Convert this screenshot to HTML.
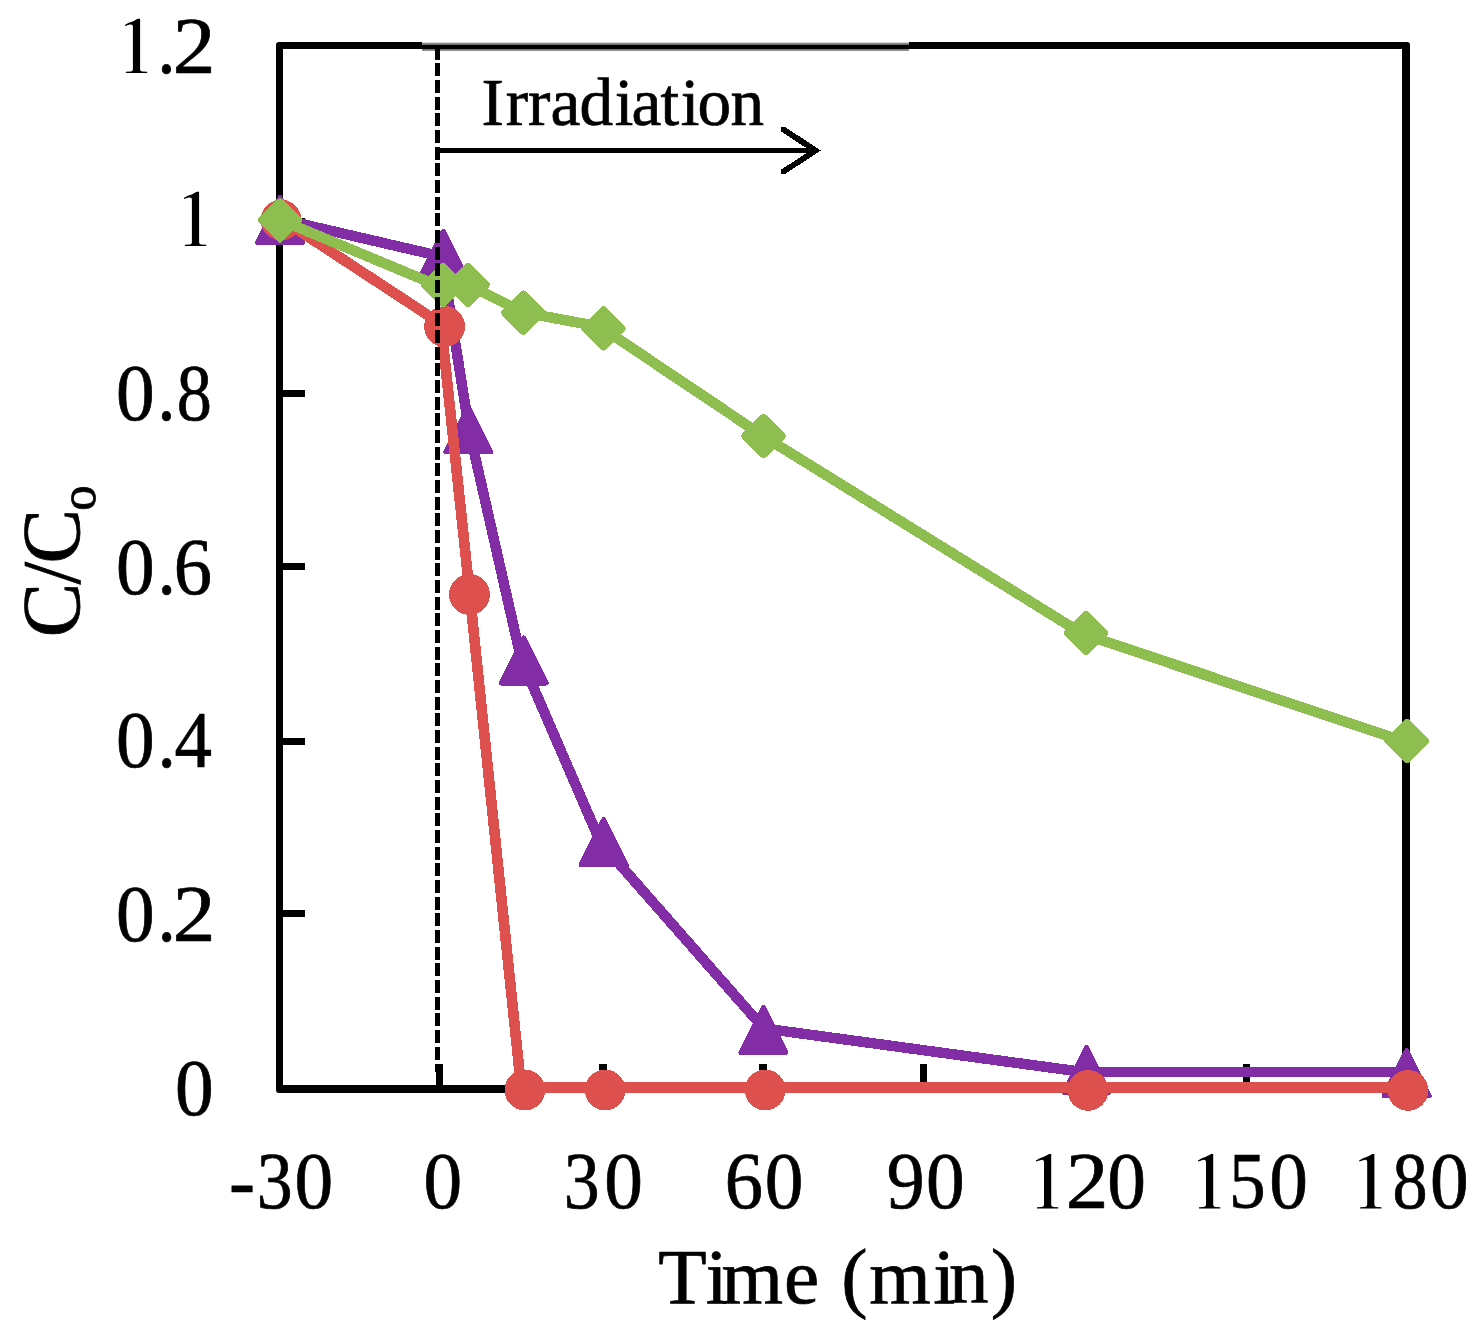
<!DOCTYPE html>
<html lang="en"><head><meta charset="utf-8"><title>C/Co versus time under irradiation</title>
<style>
html,body{margin:0;padding:0;background:#fff;}
body{width:1482px;height:1332px;overflow:hidden;}
svg{display:block;}
text{font-family:"Liberation Serif",serif;fill:#000;stroke:#000;stroke-width:0.7px;stroke-linejoin:round;}
</style></head><body>
<svg width="1482" height="1332" viewBox="0 0 1482 1332">
<rect x="0" y="0" width="1482" height="1332" fill="#fff"/>
<g id="axes" fill="#000">
<path fill-rule="evenodd" d="M279,42 H1407 Q1410,42 1410,45 V1090 Q1410,1093 1407,1093 H279 Q276,1093 276,1090 V45 Q276,42 279,42 Z M283,49 V1085 H1402 V49 Z"/>
<rect x="283" y="218" width="22" height="7"/>
<rect x="283" y="390" width="22" height="7"/>
<rect x="283" y="563" width="22" height="7"/>
<rect x="283" y="738" width="22" height="7"/>
<rect x="283" y="910" width="22" height="7"/>
<rect x="436" y="1064" width="7" height="21"/>
<rect x="599" y="1064" width="8" height="21"/>
<rect x="759" y="1064" width="8" height="21"/>
<rect x="920" y="1064" width="7" height="21"/>
<rect x="1081" y="1064" width="8" height="21"/>
<rect x="1243" y="1064" width="7" height="21"/>
</g>
<g id="topsoft" shape-rendering="crispEdges">
<rect x="422" y="41" width="487" height="11" fill="#fff"/>
<rect x="422" y="42" width="487" height="1" fill="#d8d8d8"/>
<rect x="422" y="43" width="487" height="1" fill="#8c8c8c"/>
<rect x="422" y="44" width="487" height="1" fill="#6e6e6e"/>
<rect x="422" y="45" width="487" height="1" fill="#000"/>
<rect x="422" y="46" width="487" height="1" fill="#000"/>
<rect x="422" y="47" width="487" height="1" fill="#000"/>
<rect x="422" y="48" width="487" height="1" fill="#000"/>
<rect x="422" y="49" width="487" height="1" fill="#7c7c7c"/>
<rect x="422" y="50" width="487" height="1" fill="#909090"/>
</g>
<g id="series" shape-rendering="crispEdges">
<polyline points="280,218.9 441.5,256.5 469.4,431.4 520.9,658.3 600.6,842.6 763.8,1028.4 1083.7,1072.1 1406.7,1071.9" fill="none" stroke="#822DA5" stroke-width="10.4" stroke-linejoin="round"/>
<polygon points="280,197.4 302.5,242.4 257.5,242.4" fill="#822DA5" stroke="#822DA5" stroke-width="5" stroke-linejoin="round"/>
<polygon points="443.4,231.1 465.9,276.1 420.9,276.1" fill="#822DA5" stroke="#822DA5" stroke-width="5" stroke-linejoin="round"/>
<polygon points="468.2,406.9 490.7,451.9 445.7,451.9" fill="#822DA5" stroke="#822DA5" stroke-width="5" stroke-linejoin="round"/>
<polygon points="523.8,638 546.3,683 501.3,683" fill="#822DA5" stroke="#822DA5" stroke-width="5" stroke-linejoin="round"/>
<polygon points="603.7,819.7 626.2,864.7 581.2,864.7" fill="#822DA5" stroke="#822DA5" stroke-width="5" stroke-linejoin="round"/>
<polygon points="763.4,1007.5 785.9,1052.5 740.9,1052.5" fill="#822DA5" stroke="#822DA5" stroke-width="5" stroke-linejoin="round"/>
<polygon points="1086.5,1047.4 1109,1092.4 1064,1092.4" fill="#822DA5" stroke="#822DA5" stroke-width="5" stroke-linejoin="round"/>
<polygon points="1406.7,1050.7 1429.2,1095.7 1384.2,1095.7" fill="#822DA5" stroke="#822DA5" stroke-width="5" stroke-linejoin="round"/>
<polyline points="278,216.9 441,323.7 469.8,594.5 521.1,1087.4 1408,1087.4" fill="none" stroke="#DD504D" stroke-width="10.6" stroke-linejoin="round"/>
<circle cx="281" cy="220" r="20.4" fill="#DD504D"/>
<circle cx="444.6" cy="326.5" r="20.4" fill="#DD504D"/>
<circle cx="469.5" cy="594.5" r="20.4" fill="#DD504D"/>
<circle cx="524.9" cy="1090" r="20.4" fill="#DD504D"/>
<circle cx="605.1" cy="1090" r="20.4" fill="#DD504D"/>
<circle cx="765.2" cy="1090" r="20.4" fill="#DD504D"/>
<circle cx="1088" cy="1090.4" r="20.4" fill="#DD504D"/>
<circle cx="1408" cy="1090.4" r="20.4" fill="#DD504D"/>
<polyline points="280,219.8 443,287.8 467.7,284.5 523.3,312.3 600.3,326.8 763.5,436.3 1082.4,633.8 1406.7,742.4" fill="none" stroke="#8EBD50" stroke-width="10.5" stroke-linejoin="round"/>
<polygon points="280,201.5 298.9,220.4 280,239.3 261.1,220.4" fill="#8EBD50" stroke="#8EBD50" stroke-width="6.6" stroke-linejoin="round"/>
<polygon points="443,266.1 461.9,285 443,303.9 424.1,285" fill="#8EBD50" stroke="#8EBD50" stroke-width="6.6" stroke-linejoin="round"/>
<polygon points="467.7,266 486.6,284.9 467.7,303.8 448.8,284.9" fill="#8EBD50" stroke="#8EBD50" stroke-width="6.6" stroke-linejoin="round"/>
<polygon points="523.3,293.9 542.2,312.8 523.3,331.7 504.4,312.8" fill="#8EBD50" stroke="#8EBD50" stroke-width="6.6" stroke-linejoin="round"/>
<polygon points="603.3,309.4 622.2,328.3 603.3,347.2 584.4,328.3" fill="#8EBD50" stroke="#8EBD50" stroke-width="6.6" stroke-linejoin="round"/>
<polygon points="763.5,417.1 782.4,436 763.5,454.9 744.6,436" fill="#8EBD50" stroke="#8EBD50" stroke-width="6.6" stroke-linejoin="round"/>
<polygon points="1086,614.1 1104.9,633 1086,651.9 1067.1,633" fill="#8EBD50" stroke="#8EBD50" stroke-width="6.6" stroke-linejoin="round"/>
<polygon points="1406.7,722.1 1425.6,741 1406.7,759.9 1387.8,741" fill="#8EBD50" stroke="#8EBD50" stroke-width="6.6" stroke-linejoin="round"/>
</g>
<g id="annot" shape-rendering="crispEdges">
<line x1="437.5" y1="46.63" x2="437.5" y2="1072" stroke="#000" stroke-width="5" stroke-dasharray="12.9 3.77"/>
<rect x="437" y="148" width="380" height="5" fill="#000"/>
</g>
<path shape-rendering="crispEdges" fill="#000" d="M780.9,127 L785,127 L821,150.5 L785,174 L783,174 Q780.9,174 780.9,172 L780.9,169.8 L806.6,153 L806.6,148.2 L780.9,131.4 Z"/>
<defs><path id="one" d="M-7,0 L-7,-1.2 L-2.1,-1.4 Q-0.1,-1.6 0,-3.7 L0,-45.8 Q0,-47.6 -0.5,-48 Q-1.5,-48.9 -3.2,-48.4 L-7.8,-47 L-8.1,-48 L-4.2,-50.2 L-0.1,-51.6 L4.3,-54 L5.1,-54.3 L7.2,-54.3 L7.2,-3.7 Q7.3,-1.6 9.2,-1.4 L14.3,-1.2 L14.3,0 Z"/></defs>
<use href="#one" x="132.9" y="73"/><text transform="translate(166.45,73) scale(0.91,1)" x="-10.07" font-size="80.6">.</text><text transform="translate(193.55,73) scale(1.06,1)" x="-19.7" font-size="80.6">2</text>
<use href="#one" x="191.9" y="246"/>
<text transform="translate(135.3,420.2) scale(0.96,1)" x="-20.15" font-size="80.6">0</text><text transform="translate(166.4,420.2) scale(0.91,1)" x="-10.07" font-size="80.6">.</text><text transform="translate(194.15,420.2) scale(0.87,1)" x="-20.15" font-size="80.6">8</text>
<text transform="translate(135.3,594.3) scale(0.96,1)" x="-20.15" font-size="80.6">0</text><text transform="translate(166.7,594.3) scale(0.91,1)" x="-10.07" font-size="80.6">.</text><text transform="translate(193.45,594.3) scale(0.95,1)" x="-20.68" font-size="80.6">6</text>
<text transform="translate(135.3,767.4) scale(0.96,1)" x="-20.15" font-size="80.6">0</text><text transform="translate(166.7,767.4) scale(0.91,1)" x="-10.07" font-size="80.6">.</text><text transform="translate(193.45,767.4) scale(0.93,1)" x="-20.31" font-size="80.6">4</text>
<text transform="translate(135.3,941.2) scale(0.96,1)" x="-20.15" font-size="80.6">0</text><text transform="translate(166.7,941.2) scale(0.91,1)" x="-10.07" font-size="80.6">.</text><text transform="translate(193.65,941.2) scale(1.06,1)" x="-19.7" font-size="80.6">2</text>
<text transform="translate(194.35,1115.3) scale(0.96,1)" x="-20.15" font-size="80.6">0</text>
<text transform="translate(241.95,1208.4) scale(0.97,1)" x="-13.46" font-size="80.6">-</text><text transform="translate(275.1,1208.4) scale(0.89,1)" x="-20.5" font-size="80.6">3</text><text transform="translate(313.85,1208.4) scale(0.96,1)" x="-20.15" font-size="80.6">0</text>
<text transform="translate(442.8,1208.4) scale(0.96,1)" x="-20.15" font-size="80.6">0</text>
<text transform="translate(581.9,1208.4) scale(0.89,1)" x="-20.5" font-size="80.6">3</text><text transform="translate(623.5,1208.4) scale(0.96,1)" x="-20.15" font-size="80.6">0</text>
<text transform="translate(744.35,1208.4) scale(0.95,1)" x="-20.68" font-size="80.6">6</text><text transform="translate(784.1,1208.4) scale(0.96,1)" x="-20.15" font-size="80.6">0</text>
<text transform="translate(905.45,1208.4) scale(0.94,1)" x="-19.8" font-size="80.6">9</text><text transform="translate(945.4,1208.4) scale(0.96,1)" x="-20.15" font-size="80.6">0</text>
<use href="#one" x="1044" y="1208.4"/><text transform="translate(1086.55,1208.4) scale(1.06,1)" x="-19.7" font-size="80.6">2</text><text transform="translate(1126.6,1208.4) scale(0.96,1)" x="-20.15" font-size="80.6">0</text>
<use href="#one" x="1206" y="1208.4"/><text transform="translate(1248.15,1208.4) scale(0.91,1)" x="-20.92" font-size="80.6">5</text><text transform="translate(1288.55,1208.4) scale(0.96,1)" x="-20.15" font-size="80.6">0</text>
<use href="#one" x="1367.2" y="1208.4"/><text transform="translate(1409.9,1208.4) scale(0.87,1)" x="-20.15" font-size="80.6">8</text><text transform="translate(1449.35,1208.4) scale(0.96,1)" x="-20.15" font-size="80.6">0</text>
<text x="658.25 705.7 721.6 783.9 805 841.3 869.2 933.3 949 990.8" y="1303.2" font-size="79.2">Time (min)</text>
<text x="481.4 505.7 527.9 550.6 579.4 614.7 631.6 660.6 680.7 697.5 730.4" y="124.5" font-size="67.2">Irradiation</text>
<text transform="translate(79.4,637.2) rotate(-90)" font-size="81.7"><tspan x="0 52.8 73.8">C/C</tspan><tspan x="126.4" dy="16" font-size="50.8">o</tspan></text>
</svg></body></html>
